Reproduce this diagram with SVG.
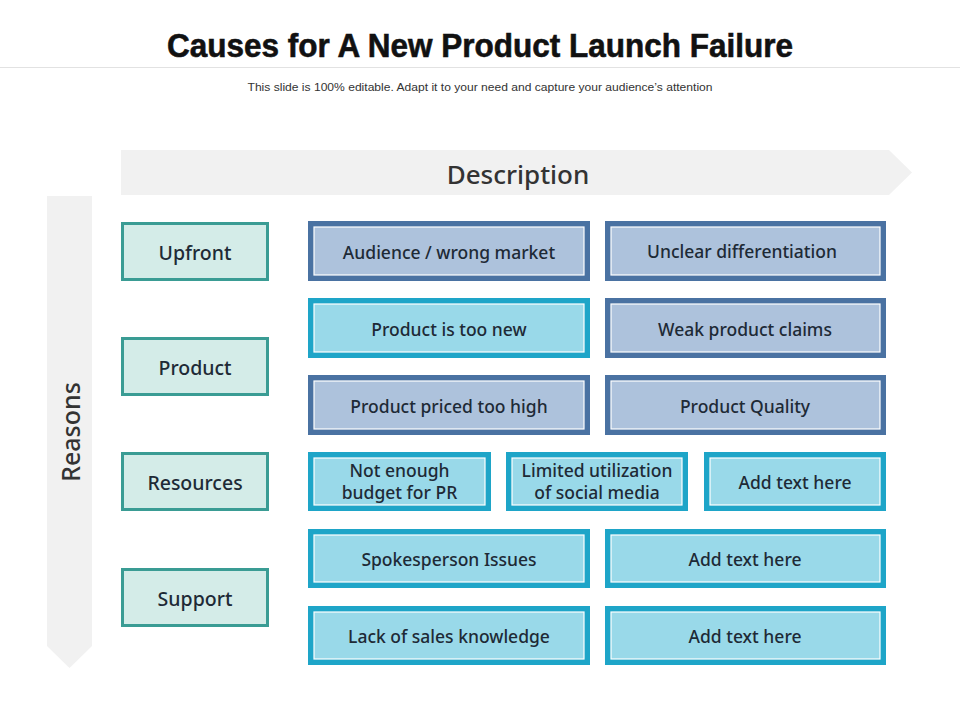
<svg xmlns="http://www.w3.org/2000/svg" width="960" height="720" viewBox="0 0 960 720">
<style>
.t{font-family:"Noto Sans","DejaVu Sans",sans-serif;fill:#1e2a36;text-anchor:middle;dominant-baseline:central;font-weight:500}
.bx{font-size:17.5px}
.cat{font-size:19.5px}
.cbox{fill:#d4ece8;stroke:#3a9c94;stroke-width:3}
.db{fill:#4a72a2}
.cb{fill:#1ea5c8}
.dbi{fill:#adc2dc;stroke:#ffffff;stroke-width:1.2}
.cbi{fill:#99d9e9;stroke:#ffffff;stroke-width:1.2}
</style>
<rect x="0" y="0" width="960" height="720" fill="#ffffff"/>
<text x="480" y="57" text-anchor="middle" font-family="'Liberation Sans',Arial,sans-serif" font-weight="bold" font-size="33" fill="#111" stroke="#111" stroke-width="0.6" textLength="626" lengthAdjust="spacingAndGlyphs">Causes for A New Product Launch Failure</text>
<line x1="0" y1="67.5" x2="960" y2="67.5" stroke="#e2e2e2" stroke-width="1"/>
<text x="480" y="91" text-anchor="middle" font-family="'Liberation Sans',Arial,sans-serif" font-size="11" fill="#333" textLength="465" lengthAdjust="spacingAndGlyphs">This slide is 100% editable. Adapt it to your need and capture your audience’s attention</text>

<g id="description-header">
<polygon points="121,150 889,150 912,172.5 889,195 121,195" fill="#f1f1f1"/>
<text class="t" x="518" y="174" font-size="26" style="fill:#333">Description</text>
</g>
<g id="reasons-header">
<polygon points="47,196 92,196 92,646 69.5,668 47,646" fill="#f1f1f1"/>
<text class="t" x="0" y="0" font-size="25" transform="translate(70,432) rotate(-90)" style="fill:#333">Reasons</text>
</g>

<g id="cat-upfront"><rect class="cbox" x="122.5" y="223.5" width="145" height="56"/><text class="t cat" x="195" y="252">Upfront</text></g>
<g id="cat-product"><rect class="cbox" x="122.5" y="338.5" width="145" height="56"/><text class="t cat" x="195" y="367">Product</text></g>
<g id="cat-resources"><rect class="cbox" x="122.5" y="453.5" width="145" height="56"/><text class="t cat" x="195" y="482">Resources</text></g>
<g id="cat-support"><rect class="cbox" x="122.5" y="569.5" width="145" height="56"/><text class="t cat" x="195" y="598">Support</text></g>

<g id="b1"><rect class="db" x="308" y="221" width="282" height="60"/><rect class="dbi" x="314" y="227" width="270" height="48"/><text class="t bx" x="449" y="252">Audience / wrong market</text></g>
<g id="b2"><rect class="db" x="605" y="221" width="281" height="60"/><rect class="dbi" x="611" y="227" width="269" height="48"/><text class="t bx" x="742" y="251">Unclear differentiation</text></g>

<g id="b3"><rect class="cb" x="308" y="298" width="282" height="60"/><rect class="cbi" x="314" y="304" width="270" height="48"/><text class="t bx" x="449" y="329">Product is too new</text></g>
<g id="b4"><rect class="db" x="605" y="298" width="281" height="60"/><rect class="dbi" x="611" y="304" width="269" height="48"/><text class="t bx" x="745" y="329">Weak product claims</text></g>

<g id="b5"><rect class="db" x="308" y="375" width="282" height="60"/><rect class="dbi" x="314" y="381" width="270" height="48"/><text class="t bx" x="449" y="406">Product priced too high</text></g>
<g id="b6"><rect class="db" x="605" y="375" width="281" height="60"/><rect class="dbi" x="611" y="381" width="269" height="48"/><text class="t bx" x="745" y="406">Product Quality</text></g>

<g id="b7"><rect class="cb" x="308" y="452" width="183" height="59"/><rect class="cbi" x="314" y="458" width="171" height="47"/><text class="t bx" x="399.5" y="470">Not enough</text><text class="t bx" x="399.5" y="492">budget for PR</text></g>
<g id="b8"><rect class="cb" x="506" y="452" width="182" height="59"/><rect class="cbi" x="512" y="458" width="170" height="47"/><text class="t bx" x="597" y="470">Limited utilization</text><text class="t bx" x="597" y="492">of social media</text></g>
<g id="b9"><rect class="cb" x="704" y="452" width="182" height="59"/><rect class="cbi" x="710" y="458" width="170" height="47"/><text class="t bx" x="795" y="482">Add text here</text></g>

<g id="b10"><rect class="cb" x="308" y="529" width="282" height="59"/><rect class="cbi" x="314" y="535" width="270" height="47"/><text class="t bx" x="449" y="559">Spokesperson Issues</text></g>
<g id="b11"><rect class="cb" x="605" y="529" width="281" height="59"/><rect class="cbi" x="611" y="535" width="269" height="47"/><text class="t bx" x="745" y="559">Add text here</text></g>

<g id="b12"><rect class="cb" x="308" y="606" width="282" height="59"/><rect class="cbi" x="314" y="612" width="270" height="47"/><text class="t bx" x="449" y="636">Lack of sales knowledge</text></g>
<g id="b13"><rect class="cb" x="605" y="606" width="281" height="59"/><rect class="cbi" x="611" y="612" width="269" height="47"/><text class="t bx" x="745" y="636">Add text here</text></g>

<g id="connectors"></g>
</svg>
